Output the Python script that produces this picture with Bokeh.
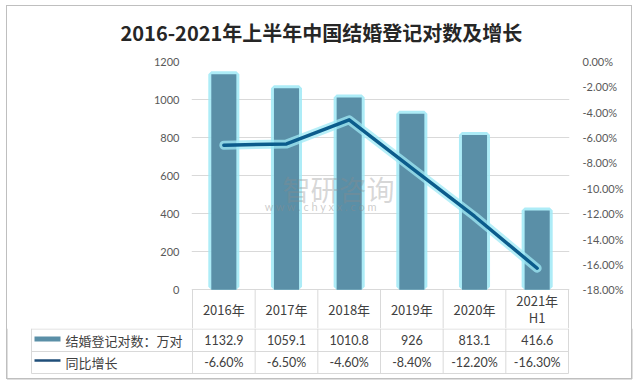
from bokeh.plotting import figure
from bokeh.layouts import column
from bokeh.models import (FactorRange, Range1d, LinearAxis, FixedTicker,
                          CustomJSTickFormatter, ColumnDataSource)
from bokeh.core.properties import value
from bokeh.embed import file_html
from bokeh.resources import INLINE

# ---------------- data ----------------
title_text = "2016-2021年上半年中国结婚登记对数及增长"
categories = ["2016年", "2017年", "2018年", "2019年", "2020年", "2021年\nH1"]
marriages = [1132.9, 1059.1, 1010.8, 926, 813.1, 416.6]          # 万对
growth = [-6.6, -6.5, -4.6, -8.4, -12.2, -16.3]                 # %
marriage_labels = ["1132.9", "1059.1", "1010.8", "926", "813.1", "416.6"]
growth_labels = ["-6.60%", "-6.50%", "-4.60%", "-8.40%", "-12.20%", "-16.30%"]
series_names = ["结婚登记对数：万对", "同比增长"]
left_ticks = [0, 200, 400, 600, 800, 1000, 1200]
right_ticks = [-18, -16, -14, -12, -10, -8, -6, -4, -2, 0]
watermark = "智研咨询"
watermark_url = "w w w . c h y x x . c o m"

# ---------------- styles / layout ----------------
BAR = "#5a8fa7"
GLOW = "#9fe9f6"
LINE = "#0b5c8c"
GRID = "#d9d9d9"
BOX = "#bfbfbf"
TXT = "#404040"
TICK = "#595959"
CJK = "Noto Sans CJK SC"
NUM = "Lato"

W, H = 640, 386
PLOT_L, PLOT_R, PLOT_T, PLOT_B = 192, 568, 59, 289   # plot area in page px
HEADER_H = 39                                         # header row height
TOP_H = PLOT_B + HEADER_H                             # height of upper figure
BOT_H = H - TOP_H                                     # height of table figure
ncat = len(categories)
CAT_PX = (PLOT_R - PLOT_L) / ncat
PAD = 1.0 / CAT_PX                                    # 1px padding so edge lines are inside
UNIT = (PLOT_B - PLOT_T) / left_ticks[-1]             # px per 万对
PUNIT = (PLOT_B - PLOT_T) / (-right_ticks[0])         # px per %

# ================= upper figure: chart + header row =================
p = figure(width=W, height=TOP_H,
           x_range=FactorRange(*categories, range_padding=PAD, range_padding_units="absolute"),
           y_range=Range1d(-HEADER_H / UNIT, left_ticks[-1]),
           output_backend="svg", toolbar_location=None,
           min_border_left=PLOT_L - 1, min_border_right=W - PLOT_R - 1,
           min_border_top=PLOT_T, min_border_bottom=0)
p.frame_align = False
p.extra_y_ranges = {"pct": Range1d(right_ticks[0] - HEADER_H / PUNIT, right_ticks[-1])}
p.outline_line_color = None
p.background_fill_color = None
p.border_fill_color = None

p.title.text = title_text
p.title.align = "left"
p.title.offset = 120 - (PLOT_L - 1)
p.title.standoff = 30
p.title.text_font = CJK
p.title.text_font_size = "20px"
p.title.text_font_style = "bold"
p.title.text_color = "#262626"

p.xaxis.visible = False
p.xgrid.visible = False
ly = p.yaxis[0]
ly.ticker = FixedTicker(ticks=left_ticks)
p.ygrid.ticker = FixedTicker(ticks=left_ticks)
p.ygrid.grid_line_color = GRID
ry = LinearAxis(y_range_name="pct", ticker=FixedTicker(ticks=right_ticks),
                formatter=CustomJSTickFormatter(code="return tick.toFixed(2) + '%'"))
p.add_layout(ry, "right")
for ax, so in ((ly, 12), (ry, 13)):
    ax.axis_line_color = None
    ax.major_tick_line_color = None
    ax.minor_tick_line_color = None
    ax.major_tick_out = 0
    ax.major_tick_in = 0
    ax.major_label_standoff = so
    ax.major_label_text_font = NUM
    ax.major_label_text_font_size = "11px"
    ax.major_label_text_color = TICK

src = ColumnDataSource(dict(cat=categories, m=marriages, g=growth))

# bars with glow
GLOW_W = 6
p.vbar(x="cat", top="m", bottom=GLOW_W / 2 / UNIT, width=0.40, source=src, fill_color=None,
       line_color=GLOW, line_width=GLOW_W, line_alpha=0.85)
p.vbar(x="cat", top="m", bottom=0, width=0.40, source=src, fill_color=BAR, line_color=None)

# line with glow
p.line(x="cat", y="g", source=src, y_range_name="pct", line_color=GLOW,
       line_width=9, line_alpha=0.75, line_join="round", line_cap="round")
p.line(x="cat", y="g", source=src, y_range_name="pct", line_color=LINE,
       line_width=3.5, line_join="round", line_cap="round")

# watermark
p.text(x=[(338 - PLOT_L) / CAT_PX], y=[(PLOT_B - 187) / UNIT], text=[watermark],
       text_font=value(CJK), text_font_size="28px", text_color="#8c8c8c", text_alpha=0.35,
       text_align="center", text_baseline="middle")
p.text(x=[(321 - PLOT_L) / CAT_PX], y=[(PLOT_B - 205) / UNIT], text=[watermark_url],
       text_font=value(NUM), text_font_size="11px", text_color="#8c8c8c", text_alpha=0.45,
       text_align="center", text_baseline="middle")

# header row: column separators + category names
hdr_bottom = -HEADER_H / UNIT
p.segment(x0=list(range(ncat + 1)), x1=list(range(ncat + 1)),
          y0=[0] * (ncat + 1), y1=[hdr_bottom] * (ncat + 1), line_color=GRID, line_width=1)
p.text(x="cat", y=hdr_bottom / 2, text="cat", source=src,
       text_font=value(CJK), text_font_size="13px", text_color=TXT,
       text_align="center", text_baseline="middle", text_line_height=0.9)

# ================= lower figure: data table rows =================
q = figure(width=W, height=BOT_H,
           x_range=Range1d(-PLOT_L / CAT_PX, (W - PLOT_L) / CAT_PX),
           y_range=Range1d(0, BOT_H),
           output_backend="svg", toolbar_location=None,
           min_border_left=0, min_border_right=0, min_border_top=0, min_border_bottom=0)
q.frame_align = False
q.axis.visible = False
q.grid.visible = False
q.outline_line_color = None
q.background_fill_color = None
q.border_fill_color = None


def qy(page_y):
    return H - page_y


def qx(page_x):
    return (page_x - PLOT_L) / CAT_PX


TL = qx(31)
rows_y = [qy(328.5), qy(351), qy(373)]
q.segment(x0=[TL] * 3, x1=[ncat] * 3, y0=rows_y, y1=rows_y, line_color=GRID, line_width=1)
vx = [TL] + list(range(ncat + 1))
q.segment(x0=vx, x1=vx, y0=[qy(373)] * len(vx), y1=[BOT_H] * len(vx),
          line_color=GRID, line_width=1)

centers = [i + 0.5 for i in range(ncat)]
tsrc = ColumnDataSource(dict(x=centers, ml=marriage_labels, gl=growth_labels))
q.text(x="x", y=qy(339.5), text="ml", source=tsrc, text_font=value(NUM),
       text_font_size="12.5px", text_color=TXT, text_align="center", text_baseline="middle")
q.text(x="x", y=qy(362), text="gl", source=tsrc, text_font=value(NUM),
       text_font_size="12.5px", text_color=TXT, text_align="center", text_baseline="middle")

# legend keys + series names
q.quad(left=[qx(34)], right=[qx(60)], top=[qy(336)], bottom=[qy(341)],
       fill_color=BAR, line_color=None)
q.segment(x0=[qx(34)], x1=[qx(60)], y0=[qy(360)], y1=[qy(360)],
          line_color="#1f4e79", line_width=2.5)
q.text(x=[qx(65), qx(65)], y=[qy(339.5), qy(362)], text=series_names,
       text_font=value(CJK), text_font_size="13px", text_color=TXT,
       text_align="left", text_baseline="middle")

# outer frame lines of the chart box (lower part)
q.segment(x0=[qx(6.5), qx(631.5), qx(6.5)], x1=[qx(6.5), qx(631.5), qx(631.5)],
          y0=[BOT_H, BOT_H, qy(378.5)], y1=[qy(378.5), qy(378.5), qy(378.5)],
          line_color=BOX, line_width=1)

# outer chart box drawn behind the (transparent) figures
g = f"linear-gradient({BOX},{BOX})"
box_bg = ", ".join([
    f"{g} 6px 5px / 626px 1px no-repeat",
    f"{g} 6px 378px / 626px 1px no-repeat",
    f"{g} 6px 5px / 1px 374px no-repeat",
    f"{g} 631px 5px / 1px 374px no-repeat",
    "#ffffff",
])
layout = column(p, q, spacing=0, styles={"background": box_bg})

open("out.html", "w").write(file_html(layout, INLINE))
